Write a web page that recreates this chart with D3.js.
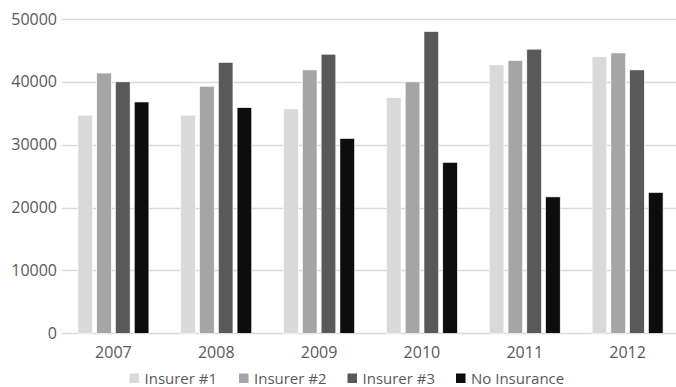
<!DOCTYPE html>
<html>
<head>
<meta charset="utf-8">
<script src="https://cdn.jsdelivr.net/npm/d3@7"></script>
<style>
  html, body { margin: 0; padding: 0; background: #fff; }
  svg { display: block; }
  text { font-family: "Open Sans", "Liberation Sans", sans-serif; fill: #595959; }
</style>
</head>
<body>
<svg id="chart" width="676" height="387"></svg>
<script>
// Annual figures per insurer, 2007–2012
const years = ["2007", "2008", "2009", "2010", "2011", "2012"];
const seriesNames = ["Insurer #1", "Insurer #2", "Insurer #3", "No Insurance"];
const insurer1 = [34700, 34700, 35700, 37500, 42700, 44000];
const insurer2 = [41400, 39300, 41900, 40000, 43400, 44600];
const insurer3 = [40000, 43100, 44400, 48000, 45200, 41900];
const noInsurance = [36800, 35900, 31000, 27200, 21700, 22400];
const yTicks = [0, 10000, 20000, 30000, 40000, 50000];
const seriesColors = ["#d9d9d9", "#a5a5a5", "#595959", "#0d0d0d"];

const seriesValues = [insurer1, insurer2, insurer3, noInsurance];
const rows = years.map((y, i) => ({
  year: y,
  values: seriesNames.map((s, j) => ({ key: s, value: seriesValues[j][i] }))
}));

const svg = d3.select("#chart");
const plot = { left: 62, right: 679, top: 19, bottom: 333.3 };

const x0 = d3.scaleBand().domain(years).range([plot.left, plot.right])
  .paddingInner(0.31).paddingOuter(0.155);
const x1 = d3.scaleBand().domain(seriesNames).range([0, x0.bandwidth()])
  .paddingInner(0.22);
const y = d3.scaleLinear().domain([0, 50000]).range([plot.bottom, plot.top]);
const color = d3.scaleOrdinal().domain(seriesNames).range(seriesColors);

// Horizontal gridlines
svg.append("g")
  .selectAll("line")
  .data(yTicks)
  .join("line")
  .attr("x1", plot.left).attr("x2", plot.right)
  .attr("y1", d => Math.round(y(d)) + 0.5).attr("y2", d => Math.round(y(d)) + 0.5)
  .attr("stroke", "#d9d9d9").attr("stroke-width", 1.3);

// Y axis labels
const yAxis = d3.axisLeft(y).tickValues(yTicks).tickSize(0).tickPadding(0).tickFormat(d3.format("d"));
svg.append("g")
  .attr("transform", `translate(${plot.left - 5},0)`)
  .call(yAxis)
  .call(g => g.select(".domain").remove())
  .call(g => g.selectAll("text").attr("font-size", 16).attr("fill", "#595959")
    .style("font-family", "'Open Sans', sans-serif"));

// Bars
svg.append("g")
  .selectAll("g")
  .data(rows)
  .join("g")
  .attr("transform", d => `translate(${x0(d.year)},0)`)
  .selectAll("rect")
  .data(d => d.values)
  .join("rect")
  .attr("x", d => x1(d.key))
  .attr("y", d => y(d.value))
  .attr("width", x1.bandwidth())
  .attr("height", d => y(0) - y(d.value))
  .attr("fill", d => color(d.key))
  .attr("stroke", "#ffffff")
  .attr("stroke-width", 0.6);

// X axis labels
const xAxis = d3.axisBottom(x0).tickSize(0).tickPadding(0);
svg.append("g")
  .attr("transform", `translate(0,${plot.bottom + 25})`)
  .call(xAxis)
  .call(g => g.select(".domain").remove())
  .call(g => g.selectAll("text").attr("dy", 0).attr("font-size", 16).attr("fill", "#595959")
    .style("font-family", "'Open Sans', sans-serif"));

// Legend
const legendX = [129.5, 239, 347.5, 456];
const legend = svg.append("g");
seriesNames.forEach((name, i) => {
  const g = legend.append("g").attr("transform", `translate(${legendX[i]},373.5)`);
  g.append("rect").attr("width", 9.5).attr("height", 9.5).attr("fill", seriesColors[i]);
  g.append("text").attr("x", 15).attr("y", 10).attr("font-size", 15).text(name);
});
</script>
</body>
</html>
